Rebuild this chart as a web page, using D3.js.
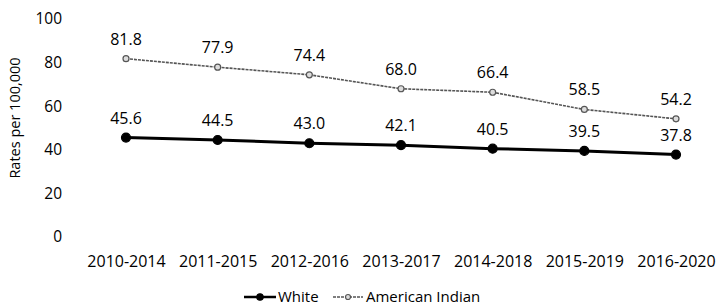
<!DOCTYPE html>
<html lang="en">
<head>
    <meta charset="UTF-8">
    <title>Rates per 100,000</title>
    <style>
        body { margin: 0; background: #fff; }
        svg { display: block; font-family: 'Open Sans', sans-serif; }
        .axis text { fill: #000; }
    </style>
    <script src="https://d3js.org/d3.v7.min.js"></script>
</head>
<body>
    <svg id="chart" width="717" height="305"></svg>
    <script>
        const periods = ["2010-2014", "2011-2015", "2012-2016", "2013-2017", "2014-2018", "2015-2019", "2016-2020"];
        const white = [45.6, 44.5, 43.0, 42.1, 40.5, 39.5, 37.8];
        const americanIndian = [81.8, 77.9, 74.4, 68.0, 66.4, 58.5, 54.2];
        const yTicks = [0, 20, 40, 60, 80, 100];

        const svg = d3.select("#chart");

        const x = d3.scalePoint().domain(periods).range([126, 676]);
        const y = d3.scaleLinear().domain([0, 100]).range([237, 19]);

        // y axis: labels only
        const yAxis = svg.append("g")
            .attr("class", "axis")
            .attr("transform", "translate(62,0)")
            .call(d3.axisLeft(y).tickValues(yTicks).tickSize(0).tickPadding(0));
        yAxis.select(".domain").remove();
        yAxis.selectAll("text")
            .attr("font-size", "15.5px")
            .attr("font-family", "'Open Sans', sans-serif");

        // x axis: labels only
        const xAxis = svg.append("g")
            .attr("class", "axis")
            .attr("transform", "translate(0,256)")
            .call(d3.axisBottom(x).tickSize(0).tickPadding(0));
        xAxis.select(".domain").remove();
        xAxis.selectAll("text")
            .attr("font-size", "16px")
            .attr("font-family", "'Open Sans', sans-serif");

        svg.append("text")
            .attr("transform", "translate(20,118) rotate(-90)")
            .attr("text-anchor", "middle")
            .attr("font-size", "14.5px")
            .attr("fill", "#000")
            .text("Rates per 100,000");

        const series = [
            { name: "White", values: white, color: "#000", width: 3, r: 4.5, fill: "#000", dash: null },
            { name: "American Indian", values: americanIndian, color: "#555", width: 1.6, r: 3, fill: "#ddd", dash: "3,1" }
        ];

        const line = d3.line()
            .x((d, i) => x(periods[i]))
            .y(d => y(d));

        series.forEach(function (s) {
            svg.append("path")
                .datum(s.values)
                .attr("d", line)
                .attr("fill", "none")
                .attr("stroke", s.color)
                .attr("stroke-width", s.width)
                .attr("stroke-dasharray", s.dash);

            svg.selectAll(null)
                .data(s.values)
                .enter().append("circle")
                .attr("cx", (d, i) => x(periods[i]))
                .attr("cy", d => y(d))
                .attr("r", s.r)
                .attr("fill", s.fill)
                .attr("stroke", s.color)
                .attr("stroke-width", 1.2);

            svg.selectAll(null)
                .data(s.values)
                .enter().append("text")
                .attr("x", (d, i) => x(periods[i]))
                .attr("y", d => y(d) - 14)
                .attr("text-anchor", "middle")
                .attr("font-size", "16px")
                .attr("fill", "#000")
                .text(d => d.toFixed(1));
        });

        // legend
        const legend = svg.append("g").attr("transform", "translate(0,297)");
        const items = [
            { s: series[0], x1: 244, x2: 276, tx: 278, r: 3.2, w: 2.5 },
            { s: series[1], x1: 333, x2: 363, tx: 366, r: 2.5, w: 1.5 }
        ];
        items.forEach(function (it) {
            legend.append("line")
                .attr("x1", it.x1).attr("x2", it.x2)
                .attr("y1", 0).attr("y2", 0)
                .attr("stroke", it.s.color)
                .attr("stroke-width", it.w)
                .attr("stroke-dasharray", it.s.dash);
            legend.append("circle")
                .attr("cx", (it.x1 + it.x2) / 2)
                .attr("cy", 0)
                .attr("r", it.r)
                .attr("fill", it.s.fill)
                .attr("stroke", it.s.color)
                .attr("stroke-width", 1.2);
            legend.append("text")
                .attr("x", it.tx)
                .attr("y", 0)
                .attr("dy", "0.35em")
                .attr("font-size", "15px")
                .attr("fill", "#000")
                .text(it.s.name);
        });
    </script>
</body>
</html>
